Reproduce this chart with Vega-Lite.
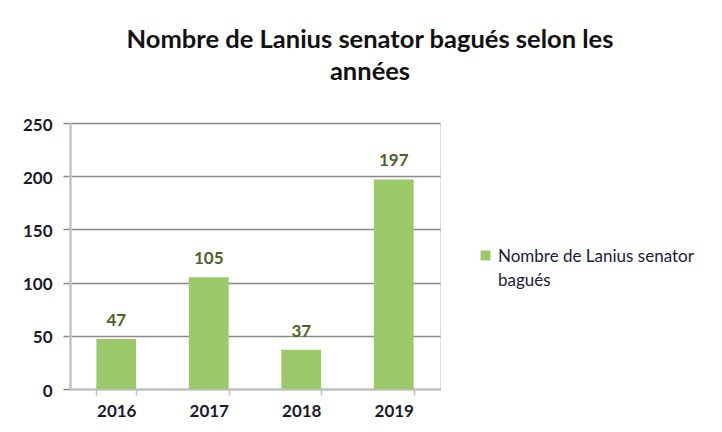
{
  "$schema": "https://vega.github.io/schema/vega-lite/v6.json",
  "width": 370,
  "height": 266,
  "autosize": "none",
  "padding": {"left": 70, "top": 123, "right": 282, "bottom": 43},
  "background": "white",
  "title": {
    "text": ["Nombre de Lanius senator  bagués selon les", "années"],
    "font": "Lato",
    "fontSize": 25.5,
    "fontWeight": "bold",
    "color": "#111111",
    "lineHeight": 32,
    "anchor": "middle",
    "frame": "group",
    "dx": 115,
    "offset": 31
  },
  "data": {
    "values": [
      {"annee": "2016", "nombre": 47, "serie": "Nombre de Lanius senator bagués"},
      {"annee": "2017", "nombre": 105, "serie": "Nombre de Lanius senator bagués"},
      {"annee": "2018", "nombre": 37, "serie": "Nombre de Lanius senator bagués"},
      {"annee": "2019", "nombre": 197, "serie": "Nombre de Lanius senator bagués"}
    ]
  },
  "encoding": {
    "x": {
      "field": "annee",
      "type": "nominal",
      "sort": null,
      "scale": {"paddingInner": 0.57, "paddingOuter": 0.285},
      "axis": {
        "title": null,
        "labelAngle": 0,
        "labelFont": "Lato",
        "labelFontSize": 17,
        "labelFontWeight": "bold",
        "labelColor": "#1a1a2a",
        "labelPadding": 8,
        "domainColor": "#bfbfbf",
        "domainWidth": 2,
        "tickColor": "#bfbfbf",
        "tickWidth": 1.5,
        "tickSize": 6,
        "tickBand": "extent",
        "grid": false
      }
    },
    "y": {
      "field": "nombre",
      "type": "quantitative",
      "scale": {"domain": [0, 250], "nice": false},
      "axis": {
        "title": null,
        "values": [0, 50, 100, 150, 200, 250],
        "labelFont": "Lato",
        "labelFontSize": 17,
        "labelFontWeight": "bold",
        "labelColor": "#1a1a2a",
        "labelPadding": 11,
        "labelOffset": 2,
        "domainColor": "#c4c4c4",
        "domainWidth": 2.5,
        "tickColor": "#8a8a8a",
        "tickWidth": 1.5,
        "tickSize": 7,
        "grid": true,
        "gridColor": "#8a8a8a",
        "gridWidth": 1.5
      }
    }
  },
  "layer": [
    {
      "mark": {"type": "bar", "color": "#9bc96a"},
      "encoding": {
        "color": {
          "field": "serie",
          "type": "nominal",
          "scale": {"range": ["#9bc96a"]},
          "legend": {
            "title": null,
            "orient": "none",
            "legendX": 407,
            "legendY": 124,
            "symbolType": "square",
            "symbolSize": 100,
            "symbolStrokeWidth": 0,
            "labelFont": "Lato",
            "labelFontSize": 17,
            "labelColor": "#1a1a3a",
            "labelLimit": 0,
            "labelOffset": 4,
            "labelBaseline": "alphabetic",
            "labelExpr": "['Nombre de Lanius senator', 'bagués']",
            "encode": {"labels": {"update": {"dy": {"value": 6}, "lineHeight": {"value": 24}}}}
          }
        }
      }
    },
    {
      "mark": {
        "type": "text",
        "font": "Lato",
        "fontSize": 17,
        "fontWeight": "bold",
        "color": "#4f6228",
        "baseline": "alphabetic",
        "dy": -13
      },
      "encoding": {
        "text": {"field": "nombre", "type": "quantitative"}
      }
    }
  ]
}
